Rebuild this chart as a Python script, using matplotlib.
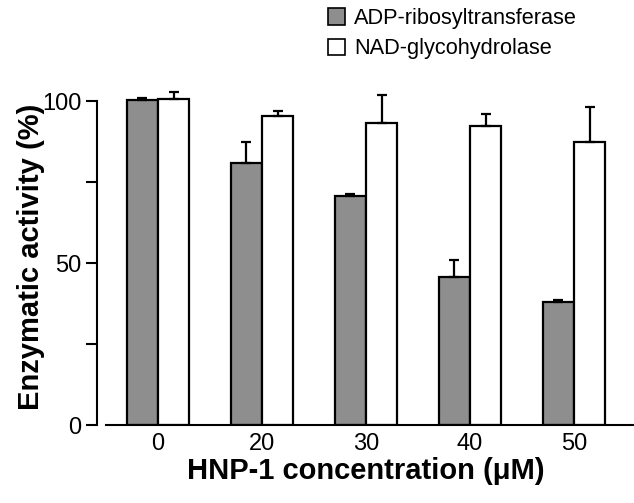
import matplotlib
matplotlib.use("Agg")
import matplotlib.pyplot as plt
import numpy as np
from matplotlib.patches import Patch

plt.rcParams['font.family'] = ['Liberation Sans', 'DejaVu Sans']

categories = ["0", "20", "30", "40", "50"]
adp_values = [100.3, 80.8, 70.8, 45.6, 38.0]
adp_errors = [0.6, 6.6, 0.5, 5.3, 0.6]
nad_values = [100.5, 95.3, 93.2, 92.2, 87.3]
nad_errors = [2.4, 1.6, 8.8, 3.9, 10.8]
series_labels = ["ADP-ribosyltransferase", "NAD-glycohydrolase"]
y_ticks = [0, 50, 100]
y_minor = [25, 75]

W, H = 634, 503
fig = plt.figure(figsize=(W / 100, H / 100), dpi=100)
ax = fig.add_axes([97 / W, 78 / H, (W - 97) / W, (425 - 68.6) / H])

x = np.arange(len(categories))
bw = 0.3
gray = '#8e8e8e'
ekw = dict(ecolor='black', elinewidth=1.6, capsize=3.5, capthick=1.6)
ax.bar(x - bw / 2, adp_values, bw, color=gray, edgecolor='black', linewidth=1.6,
       yerr=[np.zeros(len(adp_errors)), adp_errors], error_kw=ekw, zorder=2)
ax.bar(x + bw / 2, nad_values, bw, color='white', edgecolor='black', linewidth=1.6,
       yerr=[np.zeros(len(nad_errors)), nad_errors], error_kw=ekw, zorder=2)

ax.set_xlim(-0.587, 4.577)
ax.set_ylim(0, 110)
ax.spines['top'].set_visible(False)
ax.spines['right'].set_visible(False)
ax.spines['left'].set_bounds(0, 100)
ax.spines['bottom'].set_bounds(-0.5, 4.577)
ax.spines['left'].set_linewidth(1.5)
ax.spines['bottom'].set_linewidth(1.5)
ax.spines['bottom'].set_zorder(3)

ax.set_xticks(x)
ax.set_xticklabels(categories, fontsize=17)
ax.tick_params(axis='x', length=0, pad=6)
ax.set_yticks(y_ticks)
ax.set_yticks(y_minor, minor=True)
ax.tick_params(axis='y', which='both', length=8, width=1.5, labelsize=17, pad=3)
ax.set_yticklabels([str(v) for v in y_ticks])

lab_font = ['Liberation Sans Narrow', 'Liberation Sans', 'DejaVu Sans']
ax.set_xlabel("HNP-1 concentration (\u03bcM)", fontsize=21, fontweight='bold',
              family=lab_font, labelpad=1)
ax.set_ylabel("Enzymatic activity (%)", fontsize=21, fontweight='bold',
              family=lab_font, labelpad=-2)
ax.yaxis.label.set_y(0.472)

handles = [Patch(facecolor=gray, edgecolor='black', linewidth=1.2),
           Patch(facecolor='white', edgecolor='black', linewidth=1.2)]
fig.legend(handles, series_labels, loc='upper left', bbox_to_anchor=(313 / W, 1 + 7 / H),
           frameon=False, fontsize=15.7, handlelength=0.78, handleheight=0.78,
           handletextpad=0.4, labelspacing=0.42, borderaxespad=0.3)

fig.savefig("out.png", dpi=100)
